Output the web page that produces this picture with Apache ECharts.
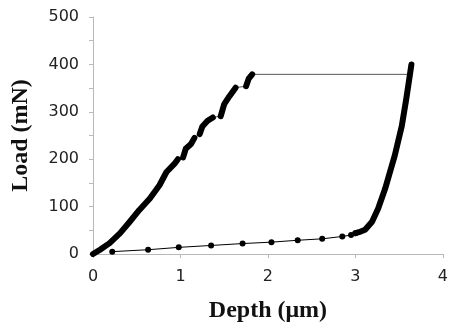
<!DOCTYPE html>
<html>
<head>
<meta charset="utf-8">
<script src="https://cdn.jsdelivr.net/npm/echarts@6/dist/echarts.min.js"></script>
<style>
  html, body { margin: 0; padding: 0; background: #fff; }
  #chart { width: 451px; height: 328px; }
</style>
</head>
<body>
<div id="chart"></div>
<script>
// depth (um), load (mN)
const loadingSegments = [
    [[0, 0], [0.08, 9], [0.19, 23], [0.31, 44], [0.42, 68], [0.53, 93], [0.65, 117], [0.76, 145], [0.84, 173], [0.93, 190], [0.97, 200]],
    [[1.03, 204], [1.06, 222], [1.12, 232], [1.16, 245]],
    [[1.22, 253], [1.25, 269], [1.31, 281], [1.37, 288]],
    [[1.46, 291], [1.5, 316], [1.56, 333], [1.63, 351]],
    [[1.75, 354], [1.78, 370], [1.82, 379]]
];
const holdLine = [[1.82, 379], [3.6, 379]];
const unloading = [[3.64, 400], [3.62, 375], [3.58, 326], [3.53, 270], [3.45, 208], [3.34, 138], [3.26, 96], [3.19, 68], [3.11, 51], [3.04, 46], [3.0, 44]];
const tailPoints = [[2.95, 40], [2.85, 37], [2.62, 32], [2.34, 29], [2.04, 25], [1.71, 22], [1.35, 18], [0.98, 14], [0.63, 9], [0.22, 5]];

const xTicks = [0, 1, 2, 3, 4];
const yTicks = [0, 100, 200, 300, 400, 500];

const axisGray = '#b8b8b8';
const labelFont = { color: '#222', fontSize: 16, fontFamily: 'DejaVu Sans' };
const nameFont = { color: '#111', fontSize: 24, fontWeight: 'bold', fontFamily: 'Liberation Serif' };

const thickSeries = loadingSegments.concat([unloading]).map(seg => ({
    type: 'line',
    data: seg,
    showSymbol: false,
    silent: true,
    lineStyle: { color: '#000', width: 6, cap: 'round', join: 'round' },
    z: 3
}));

const thinPath = [].concat(...loadingSegments, holdLine, unloading);

const chart = echarts.init(document.getElementById('chart'));
chart.setOption({
    animation: false,
    grid: { left: 93, right: 7, top: 17, bottom: 72 },
    xAxis: {
        type: 'value',
        min: xTicks[0],
        max: xTicks[xTicks.length - 1],
        interval: 1,
        name: 'Depth (\u03bcm)',
        nameLocation: 'middle',
        nameGap: 45,
        nameTextStyle: nameFont,
        axisLine: { lineStyle: { color: axisGray } },
        axisTick: { show: true, length: 4, lineStyle: { color: axisGray } },
        axisLabel: Object.assign({ margin: 15 }, labelFont),
        splitLine: { show: false }
    },
    yAxis: {
        type: 'value',
        min: yTicks[0],
        max: yTicks[yTicks.length - 1],
        interval: 100,
        name: 'Load (mN)',
        nameLocation: 'middle',
        nameGap: 60,
        nameTextStyle: nameFont,
        axisLine: { show: true, lineStyle: { color: axisGray } },
        axisTick: { show: true, length: 4, lineStyle: { color: axisGray } },
        minorTick: { show: true, splitNumber: 2, length: 4, lineStyle: { color: axisGray } },
        axisLabel: Object.assign({ margin: 14 }, labelFont),
        splitLine: { show: false }
    },
    series: [
        {
            type: 'line',
            data: thinPath,
            showSymbol: false,
            silent: true,
            lineStyle: { color: '#555', width: 1 },
            z: 2
        },
        {
            type: 'line',
            data: [[3.0, 44]].concat(tailPoints),
            symbol: 'circle',
            symbolSize: 6,
            showSymbol: true,
            silent: true,
            itemStyle: { color: '#000' },
            lineStyle: { color: '#000', width: 1 },
            z: 4
        }
    ].concat(thickSeries)
});
</script>
</body>
</html>
